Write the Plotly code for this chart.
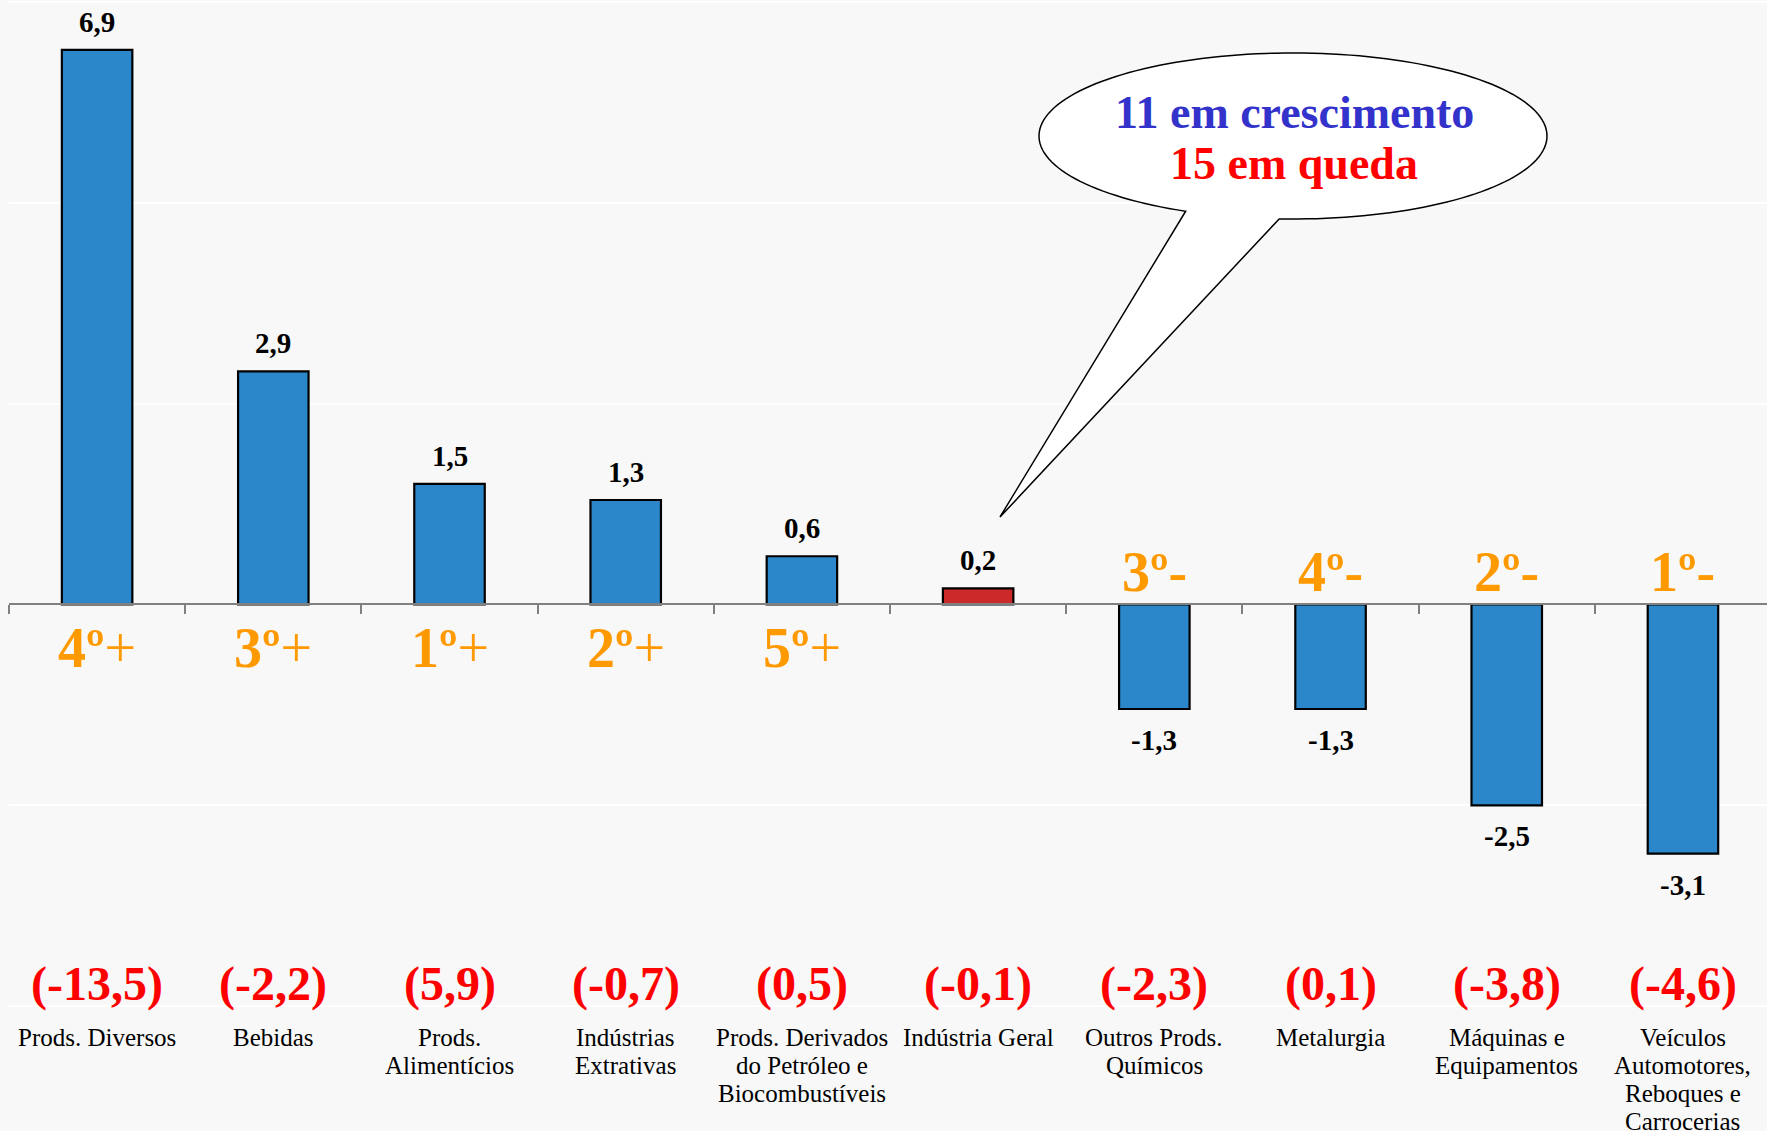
import numpy as np
import plotly.graph_objects as go

# ---------------- data ----------------
categories = [
    "Prods. Diversos", "Bebidas", "Prods.<br>Alimentícios", "Indústrias<br>Extrativas",
    "Prods. Derivados<br>do Petróleo e<br>Biocombustíveis", "Indústria Geral",
    "Outros Prods.<br>Químicos", "Metalurgia", "Máquinas e<br>Equipamentos",
    "Veículos<br>Automotores,<br>Reboques e<br>Carrocerias",
]
values = [6.9, 2.9, 1.5, 1.3, 0.6, 0.2, -1.3, -1.3, -2.5, -3.1]
previous = [-13.5, -2.2, 5.9, -0.7, 0.5, -0.1, -2.3, 0.1, -3.8, -4.6]
ranks = ["4º", "3º", "1º", "2º", "5º", "", "3º", "4º", "2º", "1º"]
highlight = "Indústria Geral"
bubble_lines = ["11 em crescimento", "15 em queda"]

# ---------------- style ----------------
W, H = 1767, 1131
ML = 9
BG = "#f8f8f8"
BLUE = "#2b87c9"
RED_BAR = "#cc2a2a"
ORANGE = "#ff9900"
SERIF = "Liberation Serif, Times New Roman, serif"
y_range = [-6.55, 7.52]
x_range = [-0.5, 9.477]

def fmt(v):
    return f"{v:.1f}".replace(".", ",")

x = list(range(len(categories)))
colors = [RED_BAR if c == highlight else BLUE for c in categories]

fig = go.Figure()
fig.add_trace(go.Bar(
    x=x, y=values, width=0.40,
    marker=dict(color=colors, line=dict(color="#000000", width=2.2)),
    hoverinfo="skip",
))

ann = []
# value labels
for xi, v in zip(x, values):
    ann.append(dict(x=xi, y=v, xref="x", yref="y", text=f"<b>{fmt(v)}</b>",
                    showarrow=False, yanchor="middle", xanchor="center",
                    yshift=28 if v >= 0 else -31,
                    font=dict(family=SERIF, size=29, color="#000000")))
# rank labels
for xi, v, r in zip(x, values, ranks):
    if not r:
        continue
    if v >= 0:
        txt = f"<b>{r}</b>+"
        ys = -44
    else:
        txt = f"<b>{r}-</b>"
        ys = 32
    ann.append(dict(x=xi, y=0, xref="x", yref="y", text=txt, showarrow=False,
                    yanchor="middle", xanchor="center", yshift=ys,
                    font=dict(family=SERIF, size=56, color=ORANGE)))
# previous values (red)
for xi, p in zip(x, previous):
    ann.append(dict(x=xi, y=1 - 984 / H, xref="paper" if False else "x", yref="paper",
                    text=f"<b>({fmt(p)})</b>", showarrow=False,
                    yanchor="middle", xanchor="center",
                    font=dict(family=SERIF, size=48, color="#ff0000")))
# category names (one annotation per line for tight line spacing)
LINE_PX = 28
for xi, c in zip(x, categories):
    for k, line in enumerate(c.split("<br>")):
        ann.append(dict(x=xi, y=1 - 1037 / H, xref="x", yref="paper", text=line,
                        showarrow=False, yanchor="middle", xanchor="center",
                        yshift=-k * LINE_PX,
                        font=dict(family=SERIF, size=25, color="#000000")))

# speech bubble (pixel geometry -> paper coordinates)
def px2paper(px, py):
    return (px - ML) / (W - ML), 1 - py / H

cx, cy, a, b = 1293, 136, 254, 83
tip = (1000, 517)
baseL = (1186, 211)
baseR = (1279, 220)
tR = np.arctan2((baseR[1] - cy) / b, (baseR[0] - cx) / a)
tL = np.arctan2((baseL[1] - cy) / b, (baseL[0] - cx) / a)
ts = np.linspace(tR, tL - 2 * np.pi, 160)
pts = [px2paper(cx + a * np.cos(t), cy + b * np.sin(t)) for t in ts]
pts.append(px2paper(*tip))
path = "M " + " L ".join(f"{px:.5f},{py:.5f}" for px, py in pts) + " Z"
shapes = [dict(type="path", path=path, xref="paper", yref="paper",
               fillcolor="#ffffff", line=dict(color="#000000", width=1.5),
               layer="above")]

bx, _ = px2paper(1294, 0)
ann.append(dict(x=bx, y=1 - 112 / H, xref="paper", yref="paper",
                text=f"<b>{bubble_lines[0]}</b>", showarrow=False,
                xanchor="center", yanchor="middle",
                font=dict(family=SERIF, size=46, color="#3333cc")))
ann.append(dict(x=bx, y=1 - 163 / H, xref="paper", yref="paper",
                text=f"<b>{bubble_lines[1]}</b>", showarrow=False,
                xanchor="center", yanchor="middle",
                font=dict(family=SERIF, size=46, color="#ff0000")))

zero_pos = (0 - y_range[0]) / (y_range[1] - y_range[0])

fig.update_layout(
    width=W, height=H,
    margin=dict(l=ML, r=0, t=0, b=0, pad=0),
    paper_bgcolor=BG, plot_bgcolor=BG,
    showlegend=False,
    annotations=ann, shapes=shapes,
    xaxis=dict(range=x_range, anchor="free", position=zero_pos,
               tickmode="array", tickvals=[i - 0.5 for i in range(10)],
               ticks="outside", ticklen=9, tickcolor="#808080", tickwidth=1.5,
               showticklabels=False, showline=True, linecolor="#808080",
               linewidth=1.5, showgrid=False, zeroline=False, fixedrange=True),
    yaxis=dict(range=y_range, tick0=0, dtick=2.5, showgrid=True,
               gridcolor="#ffffff", gridwidth=1.5, showticklabels=False,
               zeroline=False, showline=False, fixedrange=True),
)

fig.write_html("out.html", config={"displayModeBar": False},
               post_script="document.body.style.margin='0';document.body.style.overflow='hidden';")
